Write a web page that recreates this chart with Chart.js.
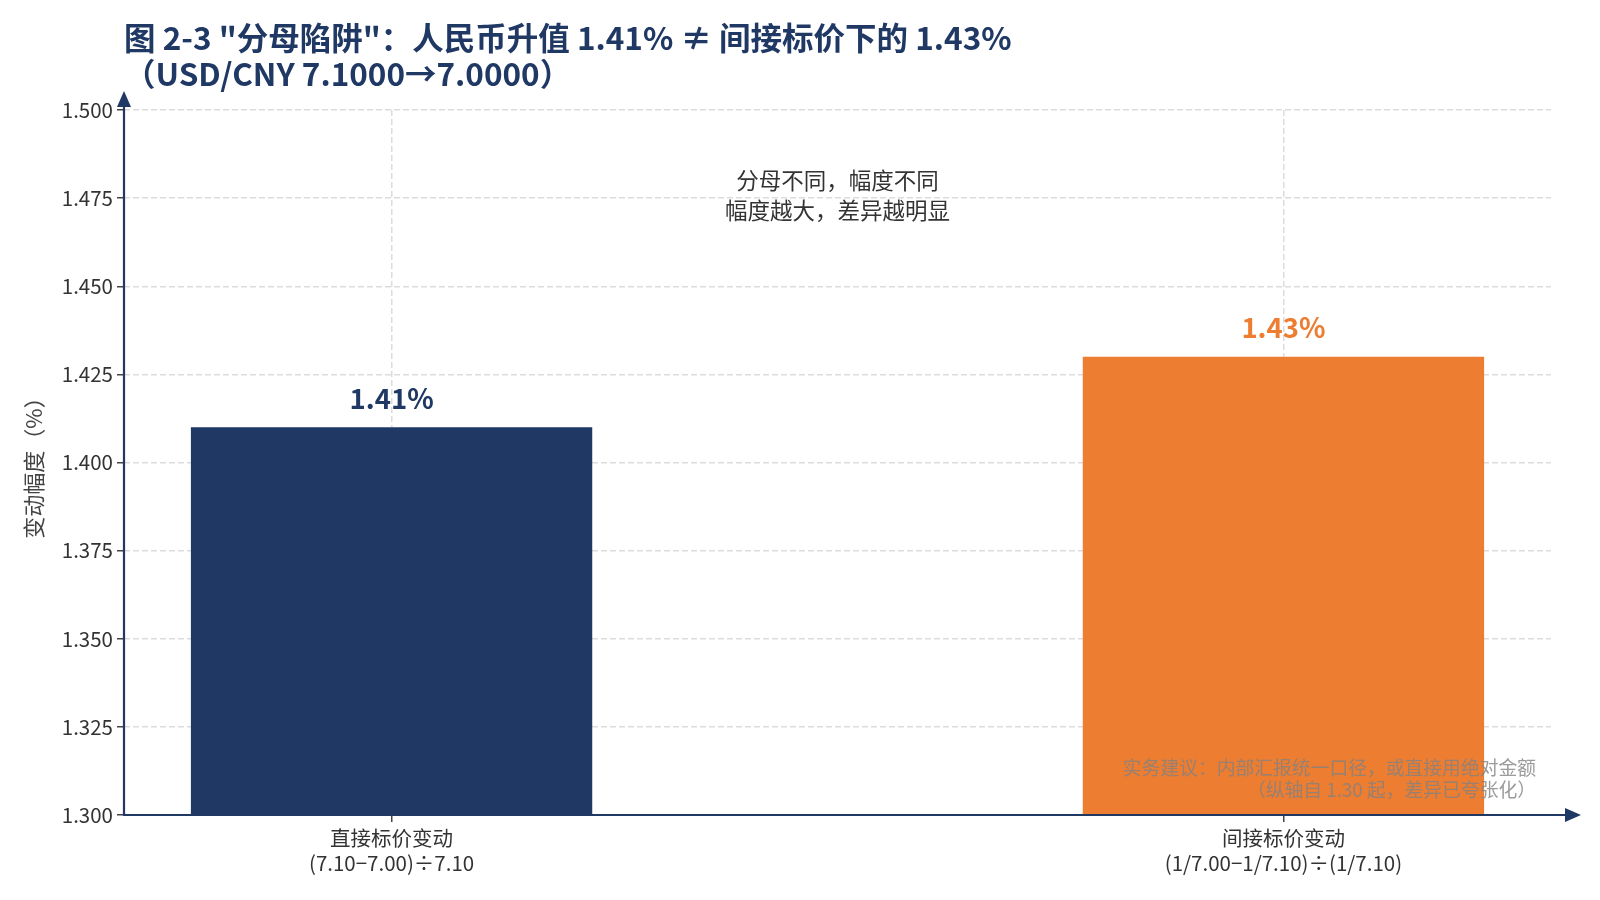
<!DOCTYPE html>
<html>
<head>
<meta charset="utf-8">
<script src="https://cdn.jsdelivr.net/npm/chart.js@4.4.1/dist/chart.umd.min.js"></script>
<style>
  html, body { margin: 0; padding: 0; background: #fff; overflow: hidden; }
  #wrap { width: 1600px; height: 900px; position: relative; }
  canvas { display: block; }
</style>
</head>
<body>
<div id="wrap"><canvas id="chart"></canvas></div>
<script>
// ---- data ----
const categories = [
    ['直接标价变动', '(7.10−7.00)÷7.10'],
    ['间接标价变动', '(1/7.00−1/7.10)÷(1/7.10)']
];
const positions = [0, 1];
const values = [1.41, 1.43];
const valueLabels = ['1.41%', '1.43%'];
const barColors = ['#203864', '#ed7d31'];
const yMin = 1.300;
const yMax = 1.500;
const yStep = 0.025;

const titleLines = ['图 2-3 "分母陷阱"：人民币升值 1.41% ≠ 间接标价下的 1.43%', '（USD/CNY 7.1000→7.0000）'];
const middleNote = ['分母不同，幅度不同', '幅度越大，差异越明显'];
const cornerNote = ['实务建议：内部汇报统一口径，或直接用绝对金额', '（纵轴自 1.30 起，差异已夸张化）'];

const FONT = '"Noto Sans CJK SC", "Noto Sans", sans-serif';
const NAVY = '#1f3864';

// ---- extra drawing: axes with arrows, title, labels, notes ----
const decorPlugin = {
    id: 'decor',
    afterDraw(chart) {
        const ctx = chart.ctx;
        const area = chart.chartArea;
        const xs = chart.scales.x;
        ctx.save();

        // axis lines + arrows
        ctx.strokeStyle = NAVY;
        ctx.fillStyle = NAVY;
        ctx.lineWidth = 2.2;
        ctx.setLineDash([]);
        ctx.beginPath();
        ctx.moveTo(area.left, area.top - 10);
        ctx.lineTo(area.left, area.bottom);
        ctx.lineTo(area.right + 20, area.bottom);
        ctx.stroke();
        ctx.beginPath();
        ctx.moveTo(area.left, area.top - 19);
        ctx.lineTo(area.left - 7, area.top - 3);
        ctx.lineTo(area.left + 7, area.top - 3);
        ctx.closePath();
        ctx.fill();
        ctx.beginPath();
        ctx.moveTo(area.right + 30, area.bottom);
        ctx.lineTo(area.right + 14, area.bottom - 7);
        ctx.lineTo(area.right + 14, area.bottom + 7);
        ctx.closePath();
        ctx.fill();

        // title
        ctx.textAlign = 'left';
        ctx.textBaseline = 'middle';
        ctx.fillStyle = NAVY;
        ctx.font = `bold 31.5px ${FONT}`;
        ctx.fillText(titleLines[0], 124, 38);
        ctx.fillText(titleLines[1], 124, 74);

        // value labels
        ctx.textAlign = 'center';
        ctx.font = `bold 27.5px ${FONT}`;
        chart.getDatasetMeta(0).data.forEach((bar, i) => {
            ctx.fillStyle = barColors[i];
            ctx.fillText(valueLabels[i], bar.x, bar.y - 29);
        });

        // middle note
        ctx.fillStyle = '#333';
        ctx.font = `22.5px ${FONT}`;
        const mx = xs.getPixelForValue(0.5);
        ctx.fillText(middleNote[0], mx, 180);
        ctx.fillText(middleNote[1], mx, 210);

        // corner note
        ctx.textAlign = 'right';
        ctx.fillStyle = 'rgba(130,130,130,0.8)';
        ctx.font = `18.8px ${FONT}`;
        ctx.fillText(cornerNote[0], 1536, 768);
        ctx.fillText(cornerNote[1], 1536, 790);

        ctx.restore();
    }
};

new Chart(document.getElementById('chart'), {
    type: 'bar',
    data: {
        datasets: [{
            data: positions.map((p, i) => ({ x: p, y: values[i] })),
            backgroundColor: barColors,
            borderWidth: 0,
            barPercentage: 0.45,
            categoryPercentage: 1
        }]
    },
    options: {
        responsive: true,
        maintainAspectRatio: false,
        devicePixelRatio: 1,
        animation: false,
        layout: { padding: { left: 0, top: 110, right: 49, bottom: 0 } },
        plugins: {
            legend: { display: false },
            title: { display: false },
            tooltip: { enabled: false }
        },
        scales: {
            x: {
                type: 'linear',
                min: -0.3,
                max: 1.3,
                offset: false,
                z: 1,
                afterBuildTicks: (scale) => { scale.ticks = positions.map(v => ({ value: v })); },
                afterFit: (scale) => { scale.height = 85; },
                border: { display: false, dash: [6, 3] },
                grid: {
                    offset: false,
                    color: '#dcdcdc',
                    lineWidth: 1.5,
                    tickLength: 7,
                    tickColor: '#444',
                    tickWidth: 1.5,
                    tickBorderDash: []
                },
                ticks: {
                    padding: 4,
                    color: '#333',
                    font: { family: FONT, size: 20.5 },
                    maxRotation: 0,
                    callback: (v) => categories[positions.indexOf(v)]
                }
            },
            y: {
                min: yMin,
                max: yMax,
                z: 1,
                afterFit: (scale) => { scale.width = 124; },
                border: { display: false, dash: [6, 3] },
                grid: {
                    color: '#dcdcdc',
                    lineWidth: 1.5,
                    tickLength: 7,
                    tickColor: '#444',
                    tickWidth: 1.5,
                    tickBorderDash: []
                },
                ticks: {
                    stepSize: yStep,
                    padding: 4,
                    color: '#333',
                    font: { family: FONT, size: 20.5 },
                    callback: (v) => Number(v).toFixed(3)
                },
                title: {
                    display: true,
                    text: '变动幅度（%）',
                    color: '#444',
                    font: { family: FONT, size: 22 },
                    padding: { top: 20, bottom: 0 }
                }
            }
        }
    },
    plugins: [decorPlugin]
});
</script>
</body>
</html>
